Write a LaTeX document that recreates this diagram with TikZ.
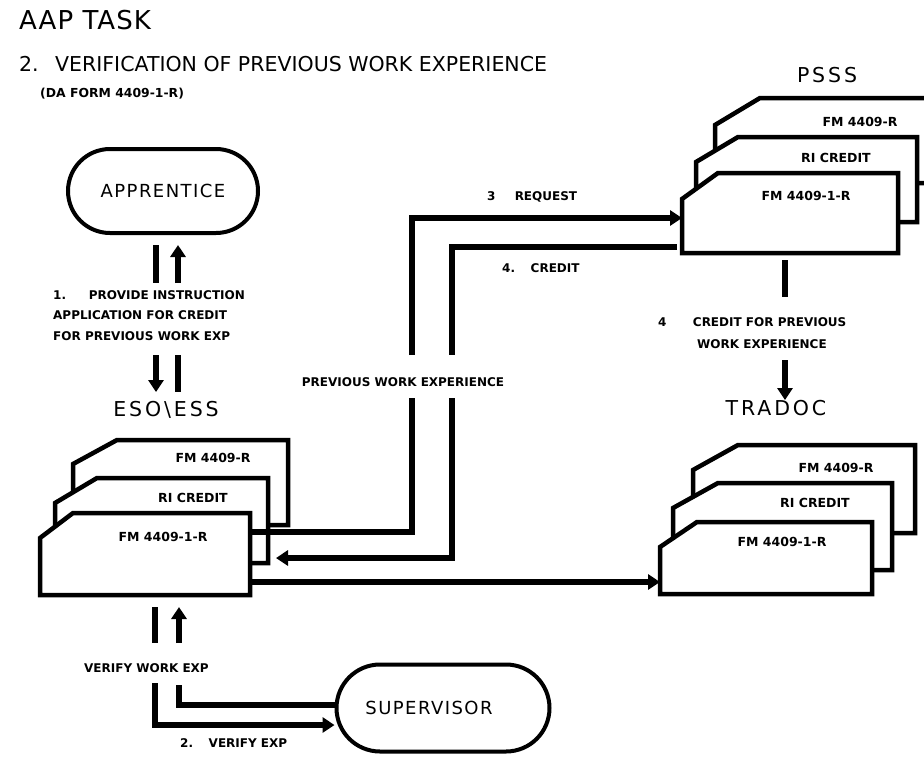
\documentclass[tikz,border=0pt]{standalone}
\usepackage{fontspec}
\setmainfont{DejaVu Sans}
\usetikzlibrary{arrows.meta,shapes.misc}

% a form card with a cut-off upper left corner:
% #1 name, #2 left, #3 top, #4 right, #5 bottom, #6 chamfer width, #7 chamfer height
\newcommand\formcard[7]{%
  \node[cardframe, minimum width={(#4-#2)*1pt}, minimum height={(#5-#3)*1pt},
        anchor=north west] (#1) at (#2,#3) {};
  \draw[cardline] ([xshift=#6pt]#1.north west) -- (#1.north east) -- (#1.south east)
     -- (#1.south west) -- ([yshift=-#7pt]#1.north west) -- cycle;
}

\begin{document}
\begin{tikzpicture}[x=1pt,y=-1pt,
  flow/.style={line width=5.5pt,line join=miter},
  tip/.style={-{Triangle[length=12pt,width=15pt]}},
  cardframe/.style={rectangle,draw=none,inner sep=0pt,outer sep=0pt},
  cardline/.style={line width=4.5pt,fill=white,line join=miter},
  oval/.style={rounded rectangle,draw,line width=4pt,inner sep=0pt},
  ovaltxt/.style={inner sep=0pt,font=\fontsize{18}{22}\selectfont\addfontfeatures{LetterSpace=8}},
  lbl/.style={font=\fontsize{12}{14}\selectfont\bfseries,inner sep=0pt},
  cardtxt/.style={font=\fontsize{12.5}{14}\selectfont\bfseries,inner sep=0pt},
  big/.style={font=\fontsize{20.5}{24}\selectfont\addfontfeatures{LetterSpace=14},inner sep=0pt},
]
\clip (0,0) rectangle (924,761);
\fill[white] (0,0) rectangle (924,761);

% headings
\node[font=\fontsize{26}{30}\selectfont\addfontfeatures{LetterSpace=4},inner sep=0pt,anchor=west] (t1) at (19,20) {AAP TASK};
\node[font=\fontsize{20.5}{24}\selectfont,inner sep=0pt,anchor=west] (t2) at (19,64)
  {2.\hspace{0.8em}VERIFICATION OF PREVIOUS WORK EXPERIENCE};
\node[font=\fontsize{12.4}{14}\selectfont\bfseries,inner sep=0pt,anchor=west] (t3) at (40,94) {(DA FORM 4409-1-R)};

% people
\node[oval,minimum width=190pt,minimum height=84pt] (appr) at (163,191) {};
\node[ovaltxt] (apprT) at (appr.center) {APPRENTICE};
\node[oval,minimum width=213pt,minimum height=87pt] (sup) at (443,708) {};
\node[ovaltxt] (supT) at ([xshift=-14pt]sup.center) {SUPERVISOR};

% office names
\node[big] (esoL) at (166,410) {ESO\textbackslash\hspace{0.15em}ESS};
\node[big] (psssL) at (827,75) {PSSS};
\node[big] (tradL) at (776,408) {TRADOC};

% ESO\ESS form stack
\formcard{esoB}{73}{440}{288}{525}{44}{24}
\node[cardtxt] (esoBt) at (213,458) {FM 4409-R};
\formcard{esoM}{55}{478}{268}{563}{42}{25}
\node[cardtxt] (esoMt) at (193,498) {RI CREDIT};
\formcard{esoF}{40}{513}{250}{595}{33}{25}
\node[cardtxt] (esoFt) at (163,537) {FM 4409-1-R};

% PSSS form stack
\formcard{psssB}{715}{98}{940}{183}{45}{27}
\node[cardtxt] (psssBt) at (860,122) {FM 4409-R};
\formcard{psssM}{696}{137}{917}{222}{42}{25}
\node[cardtxt] (psssMt) at (836,158) {RI CREDIT};
\formcard{psssF}{682}{173}{898}{253}{36}{26}
\node[cardtxt] (psssFt) at (806,196) {FM 4409-1-R};

% TRADOC form stack
\formcard{tradB}{693}{445}{915}{533}{45}{25}
\node[cardtxt] (tradBt) at (836,468) {FM 4409-R};
\formcard{tradM}{673}{483}{892}{570}{45}{25}
\node[cardtxt] (tradMt) at (815,503) {RI CREDIT};
\formcard{tradF}{660}{522}{872}{594}{37}{25}
\node[cardtxt] (tradFt) at (782,542) {FM 4409-1-R};

% step 1: apprentice <-> ESO\ESS
\coordinate (a1) at (156,245); \coordinate (a2) at (156,283);
\coordinate (a3) at (178,283); \coordinate (a4) at (178,245);
\coordinate (a5) at (156,355); \coordinate (a6) at (156,392);
\coordinate (a7) at (178,355); \coordinate (a8) at (178,392);
\draw[flow] (a1) -- (a2);
\draw[flow,tip] (a3) -- (a4);
\draw[flow,tip] (a5) -- (a6);
\draw[flow] (a7) -- (a8);
\node[lbl,anchor=west] (l1) at (53,295) {1.\hspace{1.9em}PROVIDE INSTRUCTION};
\node[lbl,anchor=west] (l2) at (53,315) {APPLICATION FOR CREDIT};
\node[lbl,anchor=west] (l3) at (53,336) {FOR PREVIOUS WORK EXP};

% step 2: ESO\ESS <-> supervisor
\coordinate (s1) at (155,607); \coordinate (s2) at (155,643);
\coordinate (s3) at (179,643); \coordinate (s4) at (179,607);
\coordinate (s5) at (155,683); \coordinate (s6) at (179,685);
\draw[flow] (s1) -- (s2);
\draw[flow,tip] (s3) -- (s4);
\draw[flow,tip] (s5) |- (sup.west |- 0,725);
\draw[flow] (sup.west |- 0,705) -| (s6);
\node[lbl,anchor=east] (lvw) at (209,668) {VERIFY WORK EXP};
\node[lbl,anchor=west] (lve) at (180,743) {2.\hspace{1.3em}VERIFY EXP};

% step 3: request to PSSS, step 4: credit back
\coordinate (r1) at (412,398); \coordinate (r2) at (412,355);
\coordinate (c1) at (452,355); \coordinate (c2) at (452,398);
\draw[flow] (esoF.east |- 0,532) -| (r1);
\draw[flow,tip] (r2) |- (psssF.west |- 0,218);
\draw[flow,shorten <=5pt] (psssF.west |- 0,247) -| (c1);
\draw[flow,tip,shorten >=8pt] (c2) |- (esoM.east |- 0,558);
\node[lbl] (lpw) at (403,382) {PREVIOUS WORK EXPERIENCE};
\node[lbl,anchor=west] (lrq) at (487,197) {3\hspace{1.6em}REQUEST};
\node[lbl,anchor=west] (lcr) at (502,268) {4.\hspace{1.3em}CREDIT};

% ESO\ESS to TRADOC
\draw[flow,tip] (esoF.east |- 0,582) -- (tradF.west |- 0,582);

% PSSS credit to TRADOC
\coordinate (d1) at (785,297); \coordinate (d2) at (785,360);
\draw[flow,shorten <=7pt] (psssF.south -| d1) -- (d1);
\draw[flow,tip] (d2) -- (tradL.north -| d2);
\node[lbl,anchor=west] (lc4) at (658,322) {4\hspace{2.2em}CREDIT FOR PREVIOUS};
\node[lbl,anchor=west] (lc4b) at (697,344) {WORK EXPERIENCE};
\end{tikzpicture}
\end{document}
